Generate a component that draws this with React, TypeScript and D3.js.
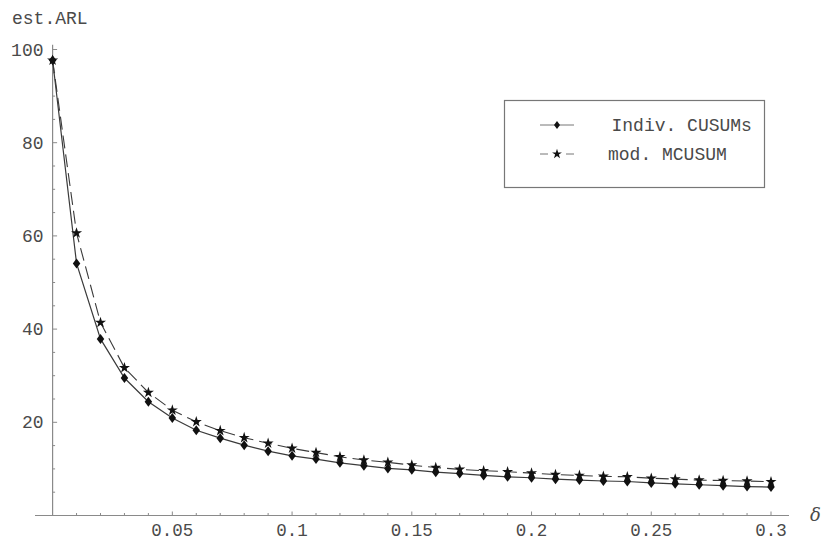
import React, { useEffect, useRef } from 'react';
import * as d3 from 'd3';

// shift values delta = 0, 0.01, ..., 0.3
const deltas = [
  0, 0.01, 0.02, 0.03, 0.04, 0.05, 0.06, 0.07, 0.08, 0.09, 0.1,
  0.11, 0.12, 0.13, 0.14, 0.15, 0.16, 0.17, 0.18, 0.19, 0.2,
  0.21, 0.22, 0.23, 0.24, 0.25, 0.26, 0.27, 0.28, 0.29, 0.3,
];
const indivCusum = [
  97.7, 54.1, 37.9, 29.5, 24.4, 20.9, 18.3, 16.6, 15.1, 13.8, 12.8,
  12.1, 11.3, 10.7, 10.1, 9.8, 9.3, 9.0, 8.6, 8.3, 8.1,
  7.8, 7.6, 7.4, 7.3, 7.0, 6.8, 6.6, 6.4, 6.2, 6.1,
];
const modMcusum = [
  97.7, 60.6, 41.4, 31.7, 26.4, 22.6, 20.1, 18.2, 16.7, 15.5, 14.4,
  13.5, 12.6, 11.9, 11.4, 10.8, 10.3, 9.9, 9.6, 9.4, 9.1,
  8.8, 8.6, 8.4, 8.3, 8.0, 7.8, 7.6, 7.5, 7.4, 7.25,
];
const xTicks = [0.05, 0.1, 0.15, 0.2, 0.25, 0.3];
const yTicks = [20, 40, 60, 80, 100];
const legendLabels = ['Indiv. CUSUMs', 'mod. MCUSUM'];

const W = 821;
const H = 540;
const MONO = '"Liberation Mono", "DejaVu Sans Mono", monospace';

const App: React.FC = () => {
  const svgRef = useRef<SVGSVGElement>(null);

  useEffect(() => {
    if (!svgRef.current) return;
    const svg = d3.select(svgRef.current);
    svg.selectAll('*').remove();

    const x = d3.scaleLinear().domain([0, 0.3]).range([52.6, 771]);
    const y = d3.scaleLinear().domain([0, 100]).range([515.5, 49.5]);
    const axisColor = '#8a8a8a';
    const textColor = '#4a4a4a';

    // axes
    svg.append('line')
      .attr('x1', 35).attr('x2', 789)
      .attr('y1', y(0)).attr('y2', y(0))
      .attr('stroke', axisColor).attr('stroke-width', 1.2);
    svg.append('line')
      .attr('x1', x(0)).attr('x2', x(0))
      .attr('y1', y(0)).attr('y2', y(101))
      .attr('stroke', axisColor).attr('stroke-width', 1.2);

    // x ticks (minor every 0.01)
    const xMinor = d3.range(1, 31).map(i => i / 100);
    svg.append('g').selectAll('line')
      .data(xMinor)
      .enter().append('line')
      .attr('x1', d => x(d)).attr('x2', d => x(d))
      .attr('y1', y(0)).attr('y2', d => y(0) - (xTicks.some(t => Math.abs(t - d) < 1e-9) ? 4 : 2.5))
      .attr('stroke', axisColor);
    svg.append('g').selectAll('text')
      .data(xTicks)
      .enter().append('text')
      .attr('x', d => x(d)).attr('y', 536)
      .attr('text-anchor', 'middle')
      .attr('font-family', MONO).attr('font-size', 17.5)
      .attr('fill', textColor)
      .text(d => String(d));

    // y ticks (minor every 5)
    const yMinor = d3.range(5, 101, 5);
    svg.append('g').selectAll('line')
      .data(yMinor)
      .enter().append('line')
      .attr('x1', x(0)).attr('x2', d => x(0) + (d % 20 === 0 ? 4.5 : 2.5))
      .attr('y1', d => y(d)).attr('y2', d => y(d))
      .attr('stroke', axisColor);
    svg.append('g').selectAll('text')
      .data(yTicks)
      .enter().append('text')
      .attr('x', 43.5).attr('y', d => y(d) + 6)
      .attr('text-anchor', 'end')
      .attr('font-family', MONO).attr('font-size', 18)
      .attr('fill', textColor)
      .text(d => String(d));

    // axis labels
    svg.append('text')
      .attr('x', 12).attr('y', 24)
      .attr('font-family', MONO).attr('font-size', 18)
      .attr('fill', textColor)
      .text('est.ARL');
    svg.append('text')
      .attr('x', 810).attr('y', 521)
      .attr('font-family', '"DejaVu Serif", serif').attr('font-style', 'italic')
      .attr('font-size', 18)
      .attr('fill', textColor)
      .text('δ');

    const pts1 = deltas.map((d, i) => [x(d), y(indivCusum[i])] as [number, number]);
    const pts2 = deltas.map((d, i) => [x(d), y(modMcusum[i])] as [number, number]);
    const line = d3.line();

    svg.append('path')
      .attr('d', line(pts2))
      .attr('fill', 'none')
      .attr('stroke', '#3a3a3a').attr('stroke-width', 1.1)
      .attr('stroke-dasharray', '13,6');
    svg.append('path')
      .attr('d', line(pts1))
      .attr('fill', 'none')
      .attr('stroke', '#3a3a3a').attr('stroke-width', 1.2);

    const diamond = (w: number, h: number) => `M0,${-h / 2}L${w / 2},0L0,${h / 2}L${-w / 2},0Z`;
    const star = d3.symbol().type(d3.symbolStar).size(38);

    svg.append('g').selectAll('path')
      .data(pts2)
      .enter().append('path')
      .attr('transform', d => `translate(${d[0]},${d[1]})`)
      .attr('d', star() as string)
      .attr('fill', '#111');
    svg.append('g').selectAll('path')
      .data(pts1)
      .enter().append('path')
      .attr('transform', d => `translate(${d[0]},${d[1]})`)
      .attr('d', diamond(7.5, 10))
      .attr('fill', '#111');

    // legend
    const lg = svg.append('g');
    lg.append('rect')
      .attr('x', 504.5).attr('y', 100.5)
      .attr('width', 260).attr('height', 87)
      .attr('fill', 'white')
      .attr('stroke', '#777').attr('stroke-width', 1.2);
    lg.append('line')
      .attr('x1', 540).attr('x2', 574).attr('y1', 125).attr('y2', 125)
      .attr('stroke', '#777').attr('stroke-width', 1);
    lg.append('path')
      .attr('transform', 'translate(557,125)')
      .attr('d', diamond(6, 8))
      .attr('fill', '#111');
    lg.append('line')
      .attr('x1', 540).attr('x2', 574).attr('y1', 154).attr('y2', 154)
      .attr('stroke', '#777').attr('stroke-width', 1)
      .attr('stroke-dasharray', '8,18');
    lg.append('path')
      .attr('transform', 'translate(557,154)')
      .attr('d', d3.symbol().type(d3.symbolStar).size(30)() as string)
      .attr('fill', '#111');
    lg.selectAll('text.lab')
      .data(legendLabels)
      .enter().append('text')
      .attr('class', 'lab')
      .attr('x', (d, i) => (i === 0 ? 611.5 : 608))
      .attr('y', (d, i) => (i === 0 ? 131 : 160))
      .attr('font-family', MONO).attr('font-size', 18)
      .attr('fill', textColor)
      .text(d => d);
  }, []);

  return (
    <svg
      ref={svgRef}
      width={W}
      height={H}
      viewBox={`0 0 ${W} ${H}`}
      style={{ position: 'absolute', left: 0, top: 0, background: 'white' }}
    />
  );
};

export default App;
